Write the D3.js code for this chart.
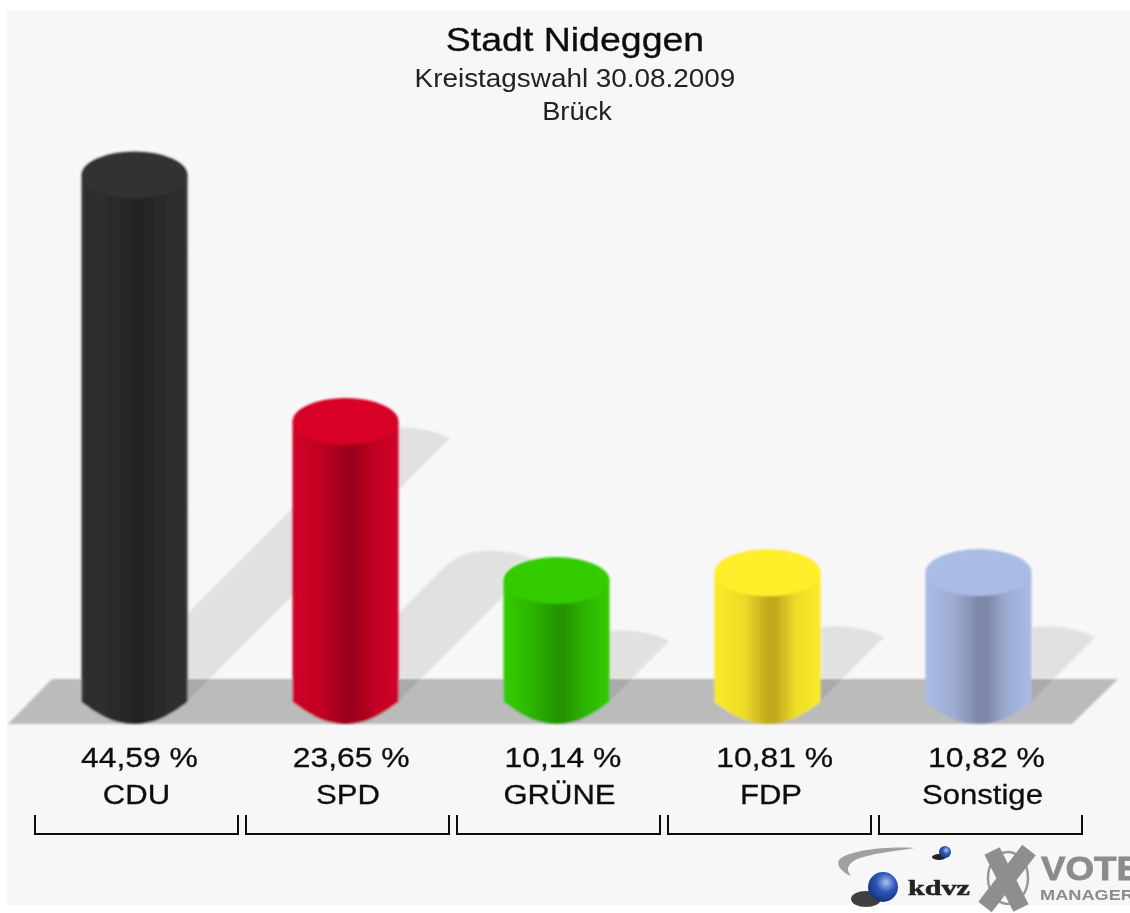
<!DOCTYPE html>
<html><head><meta charset="utf-8">
<script src="https://cdn.jsdelivr.net/npm/d3@7/dist/d3.min.js"></script>
<style>html,body{margin:0;padding:0;background:#fff}svg{display:block}</style>
</head><body><div id="c"></div>
<script>
const titles = ["Stadt Nideggen", "Kreistagswahl 30.08.2009", "Brück"];
const parties = ["CDU", "SPD", "GRÜNE", "FDP", "Sonstige"];
const values = [44.59, 23.65, 10.14, 10.81, 10.82];
const valueLabels = ["44,59 %", "23,65 %", "10,14 %", "10,81 %", "10,82 %"];
const edgeColors = ["#303030", "#d20026", "#33cc00", "#fcea26", "#aabbe6"];
const sideColors = ["#2c2c2c", "#bf0023", "#2cb400", "#ecdc28", "#9cabd2"];
const midColors = ["#242424", "#9a001b", "#249400", "#c0aa1c", "#7d88a6"];
const capColors = ["#303030", "#d80027", "#33cc00", "#ffee2a", "#aabbe6"];

const W = 1130, H = 913;
const svg = d3.select("#c").append("svg").attr("width", W).attr("height", H);
const defs = svg.append("defs");
defs.append("filter").attr("id", "soft").attr("x", "-5%").attr("y", "-5%").attr("width", "110%").attr("height", "110%")
  .append("feGaussianBlur").attr("stdDeviation", 0.8);
defs.append("filter").attr("id", "softText").attr("x", "-5%").attr("y", "-20%").attr("width", "110%").attr("height", "140%")
  .append("feGaussianBlur").attr("stdDeviation", 0.7);

svg.append("rect").attr("x", 7).attr("y", 10).attr("width", W - 7).attr("height", 895).attr("fill", "#f7f7f7");

const x = d3.scaleBand().domain(parties).range([31, 1086]).paddingInner(8 / 211).paddingOuter(4 / 211);
const y = d3.scaleLinear().domain([0, 44.59]).range([700, 175]);
const baseY = 702, rx = 53, ry = 23.5;
const cx = p => x(p) + x.bandwidth() / 2 - 2;

const g = svg.append("g").attr("filter", "url(#soft)");
g.append("path").attr("d", "M52,679L1118,679L1072,724L8,724Z").attr("fill", "#bbbbbb");

g.selectAll("path.sh").data(parties).join("path").attr("class", "sh")
  .attr("fill", "#000").attr("fill-opacity", 0.09)
  .attr("d", (p, i) => {
    const c = cx(p), d = (baseY - y(values[i])) / 2, tx = c + 52 + d, ty = baseY - d;
    const p0 = d3.path();
    p0.moveTo(c + 52, baseY);
    p0.lineTo(tx, ty);
    p0.bezierCurveTo(tx - 12, ty - 7, tx - 32, ty - 11, tx - 48, ty - 11);
    p0.bezierCurveTo(tx - 70, ty - 11, tx - 84, ty - 4, tx - 94, ty + 6);
    p0.lineTo(c - 35, baseY);
    p0.closePath();
    return p0.toString();
  });

parties.forEach((p, i) => {
  const lg = defs.append("linearGradient").attr("id", "grad" + i);
  [[0, edgeColors[i]], [0.28, sideColors[i]], [0.5, midColors[i]], [0.58, midColors[i]], [0.76, sideColors[i]], [1, edgeColors[i]]]
    .forEach(s => lg.append("stop").attr("offset", s[0]).attr("stop-color", s[1]));
});

g.selectAll("path.body").data(parties).join("path").attr("class", "body")
  .attr("fill", (p, i) => `url(#grad${i})`)
  .attr("d", (p, i) => {
    const c = cx(p), t = y(values[i]), b = baseY + 22;
    return `M${c - rx},${t}L${c - rx},${baseY}C${c - rx + 14},${baseY + 10} ${c - 24},${b} ${c},${b}` +
      `C${c + 24},${b} ${c + rx - 14},${baseY + 10} ${c + rx},${baseY}L${c + rx},${t}Z`;
  });
g.selectAll("ellipse.cap").data(parties).join("ellipse").attr("class", "cap")
  .attr("cx", cx).attr("cy", (p, i) => y(values[i])).attr("rx", rx).attr("ry", ry)
  .attr("fill", (p, i) => capColors[i]);

const font = "'Liberation Sans', Arial, sans-serif";
const stretch = k => function () {
  d3.select(this).attr("textLength", this.getComputedTextLength() * k).attr("lengthAdjust", "spacingAndGlyphs");
};
const tg = svg.append("g").attr("filter", "url(#softText)").attr("font-family", font).attr("fill", "#111")
  .attr("text-anchor", "middle");
tg.append("text").attr("x", 575).attr("y", 51).attr("font-size", 33).attr("stroke", "#111").attr("stroke-width", 0.35).text(titles[0]).each(stretch(1.136));
tg.append("text").attr("x", 575).attr("y", 87).attr("font-size", 25).attr("fill", "#222").text(titles[1]).each(stretch(1.115));
tg.append("text").attr("x", 577).attr("y", 120).attr("font-size", 25).attr("fill", "#222").text(titles[2]).each(stretch(1.09));

tg.selectAll("text.val").data(parties).join("text").attr("class", "val")
  .attr("x", (p, i) => x(p) + x.bandwidth() / 2 + 3 + i * 0.75).attr("y", 767).attr("font-size", 27)
  .attr("stroke", "#111").attr("stroke-width", 0.3)
  .text((p, i) => valueLabels[i]).each(stretch(1.18));
tg.selectAll("text.nm").data(parties).join("text").attr("class", "nm")
  .attr("x", (p, i) => x(p) + x.bandwidth() / 2 + i * 0.5).attr("y", 804).attr("font-size", 27)
  .attr("stroke", "#111").attr("stroke-width", 0.3)
  .text(p => p).each(stretch(1.15));

tg.selectAll("path.br").data(parties).join("path").attr("class", "br")
  .attr("fill", "none").attr("stroke", "#111").attr("stroke-width", 2)
  .attr("d", p => `M${x(p)},815V834H${x(p) + x.bandwidth()}V815`);

const lg = svg.append("g").attr("filter", "url(#softText)");
const ballGrad = defs.append("radialGradient").attr("id", "ball").attr("cx", "60%").attr("cy", "35%").attr("r", "70%");
ballGrad.append("stop").attr("offset", 0).attr("stop-color", "#a9c4ee");
ballGrad.append("stop").attr("offset", 0.45).attr("stop-color", "#2f57b8");
ballGrad.append("stop").attr("offset", 1).attr("stop-color", "#123077");
lg.append("path").attr("d", "M915,848C885,846 846,851 839,860C836,866 842,872 851,876C846,870 847,865 855,860C868,854 895,851 915,848Z").attr("fill", "#a0a0a0");
lg.append("ellipse").attr("cx", 866).attr("cy", 899).attr("rx", 15).attr("ry", 8).attr("fill", "#222").attr("opacity", .85);
lg.append("circle").attr("cx", 883).attr("cy", 887).attr("r", 15).attr("fill", "url(#ball)");
lg.append("ellipse").attr("cx", 939).attr("cy", 857).attr("rx", 7).attr("ry", 3).attr("fill", "#222");
lg.append("circle").attr("cx", 945).attr("cy", 852).attr("r", 6).attr("fill", "url(#ball)");
lg.append("text").attr("x", 908).attr("y", 895).attr("font-family", "'Liberation Serif', serif").attr("font-weight", "bold").attr("font-size", 21).attr("textLength", 62).attr("lengthAdjust", "spacingAndGlyphs").attr("fill", "#222").attr("stroke", "#222").attr("stroke-width", .5).text("kdvz");
lg.append("ellipse").attr("cx", 1008).attr("cy", 878).attr("rx", 20).attr("ry", 26).attr("fill", "none").attr("stroke", "#999").attr("stroke-width", 2.5);
lg.append("line").attr("x1", 992).attr("y1", 851).attr("x2", 1021).attr("y2", 908).attr("stroke", "#8e8e8e").attr("stroke-width", 17);
lg.append("line").attr("x1", 1029).attr("y1", 850).attr("x2", 985).attr("y2", 907).attr("stroke", "#8e8e8e").attr("stroke-width", 17);
lg.append("text").attr("x", 1041).attr("y", 880).attr("font-family", font).attr("font-weight", "bold").attr("font-size", 33).attr("textLength", 100).attr("lengthAdjust", "spacingAndGlyphs").attr("fill", "#8c8c8c").attr("stroke", "#8c8c8c").attr("stroke-width", .8).text("VOTE");
lg.append("text").attr("x", 1040).attr("y", 900).attr("font-family", font).attr("font-weight", "bold").attr("font-size", 14).attr("textLength", 94).attr("lengthAdjust", "spacingAndGlyphs").attr("fill", "#8c8c8c").text("MANAGER");
</script></body></html>
